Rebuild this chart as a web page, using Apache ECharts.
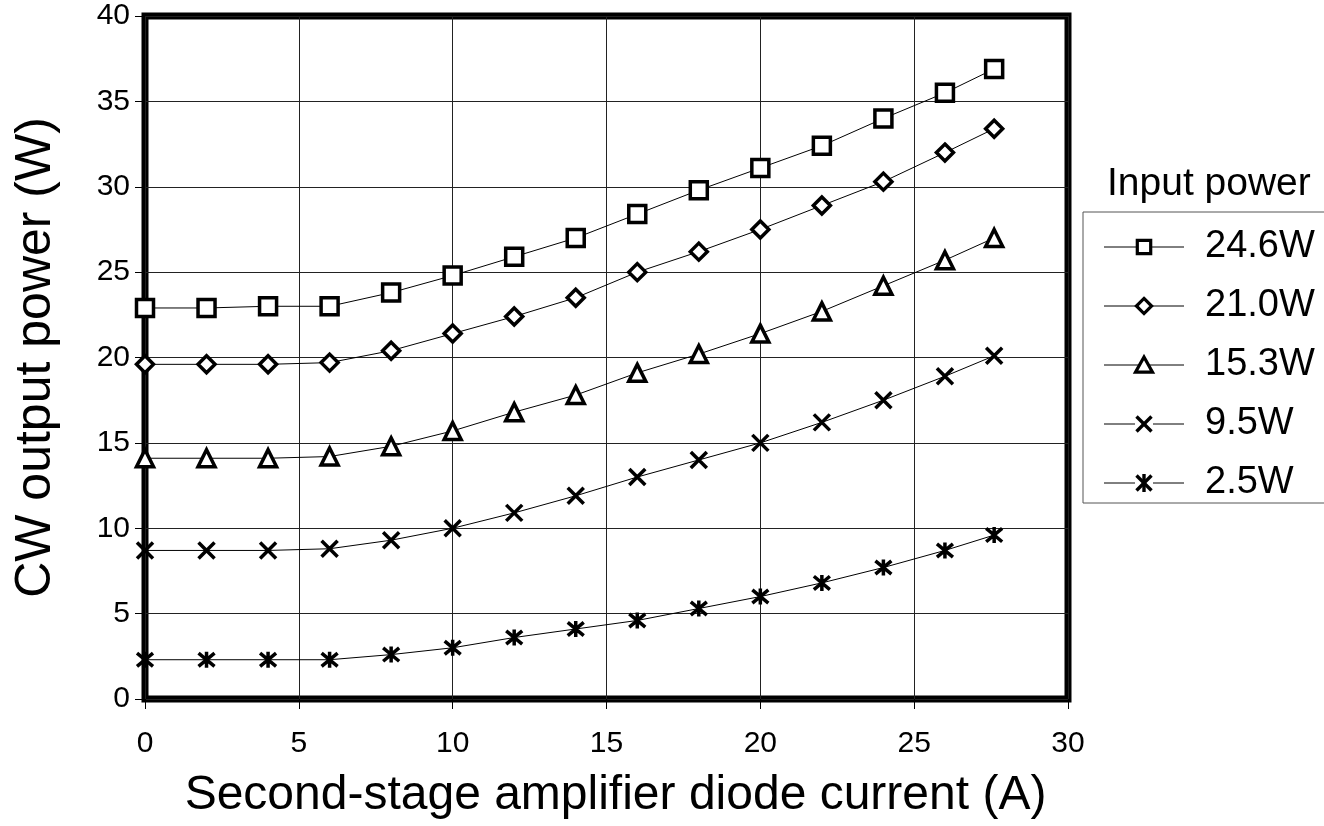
<!DOCTYPE html>
<html><head><meta charset="utf-8">
<script src="https://cdn.jsdelivr.net/npm/echarts@6/dist/echarts.min.js"></script>
<style>html,body{margin:0;padding:0;background:#fff}#c{width:1324px;height:826px}</style>
</head><body><div id="c"></div>
<script>
// Data
const current = [0, 2, 4, 6, 8, 10, 12, 14, 16, 18, 20, 22, 24, 26, 27.6];
const seriesNames = ['24.6W', '21.0W', '15.3W', '9.5W', '2.5W'];
const p24_6 = [22.9, 22.9, 23.0, 23.0, 23.8, 24.8, 25.9, 27.0, 28.4, 29.8, 31.1, 32.4, 34.0, 35.5, 36.9];
const p21_0 = [19.6, 19.6, 19.6, 19.7, 20.4, 21.4, 22.4, 23.5, 25.0, 26.2, 27.5, 28.9, 30.3, 32.0, 33.4];
const p15_3 = [14.1, 14.1, 14.1, 14.2, 14.8, 15.7, 16.8, 17.8, 19.1, 20.2, 21.4, 22.7, 24.2, 25.7, 27.0];
const p9_5  = [8.7, 8.7, 8.7, 8.8, 9.3, 10.0, 10.9, 11.9, 13.0, 14.0, 15.0, 16.2, 17.5, 18.9, 20.1];
const p2_5  = [2.3, 2.3, 2.3, 2.3, 2.6, 3.0, 3.6, 4.1, 4.6, 5.3, 6.0, 6.8, 7.7, 8.7, 9.6];
const xMin = 0, xMax = 30, xStep = 5;
const yMin = 0, yMax = 40, yStep = 5;
const xTitle = 'Second-stage amplifier diode current (A)';
const yTitle = 'CW output power (W)';
const legendTitle = 'Input power';

const FONT = "'Liberation Sans', Arial, Helvetica, sans-serif";
const allValues = [p24_6, p21_0, p15_3, p9_5, p2_5];
const symbols = [
  'rect',
  'diamond',
  'triangle',
  'path://M0,0L10,10M10,0L0,10',
  'path://M0,0L10,10M10,0L0,10M5,-1L5,11'
];
const symbolSizes = [17, 17, 17, 16, 16];

// Legend layout (the legend component draws box and labels; bold icons are drawn on top of it)
const LEG = {left: 1083, top: 212, padT: 16, padL: 21, itemH: 38, gap: 21, iconW: 80};
const MK = {fill: '#fff', stroke: '#000', lineWidth: 3.2, lineJoin: 'miter'};
function legendIconChildren(k) {
  const c = 40;
  const seg = (a, b) => ({type: 'line', shape: {x1: a, y1: 0, x2: b, y2: 0}, style: {stroke: '#000', lineWidth: 1}});
  const stroke = (x1, y1, x2, y2) => ({type: 'line', shape: {x1, y1, x2, y2}, style: {stroke: '#000', lineWidth: 3.4}});
  if (k === 0) return [seg(0, 80), {type: 'rect', shape: {x: c - 6.7, y: -6.7, width: 13.4, height: 13.4}, style: MK}];
  if (k === 1) return [seg(0, 80), {type: 'polygon', shape: {points: [[c, -7.6], [c + 7.6, 0], [c, 7.6], [c - 7.6, 0]]}, style: MK}];
  if (k === 2) return [seg(0, 80), {type: 'polygon', shape: {points: [[c, -8], [c + 8.5, 7.2], [c - 8.5, 7.2]]}, style: MK}];
  if (k === 3) return [seg(0, 31), seg(49, 80), stroke(c - 7.5, -7.5, c + 7.5, 7.5), stroke(c + 7.5, -7.5, c - 7.5, 7.5)];
  return [seg(0, 31), seg(49, 80), stroke(c - 7.5, -7.5, c + 7.5, 7.5), stroke(c + 7.5, -7.5, c - 7.5, 7.5), stroke(c, -9, c, 9)];
}
const legendIconGraphics = seriesNames.map((n, k) => ({
  type: 'group',
  x: LEG.left + LEG.padL,
  y: LEG.top + LEG.padT + LEG.itemH / 2 + k * (LEG.itemH + LEG.gap),
  z: 100,
  silent: true,
  children: legendIconChildren(k)
}));

const chart = echarts.init(document.getElementById('c'), null, {renderer: 'canvas'});
chart.setOption({
  backgroundColor: '#fff',
  animation: false,
  textStyle: {fontFamily: FONT, color: '#000'},
  title: {
    text: legendTitle, left: 1107, top: 165, padding: 0,
    textStyle: {fontFamily: FONT, fontSize: 39, fontWeight: 'normal', color: '#000'}
  },
  legend: {
    orient: 'vertical', left: LEG.left, top: LEG.top,
    padding: [LEG.padT, 40, 1, LEG.padL],
    itemWidth: LEG.iconW, itemHeight: 17, itemGap: LEG.gap,
    borderColor: '#555', borderWidth: 1,
    selectedMode: false,
    data: seriesNames,
    itemStyle: {opacity: 0},
    lineStyle: {opacity: 0},
    textStyle: {fontFamily: FONT, fontSize: 38, lineHeight: LEG.itemH, color: '#000', padding: [0, 0, 0, 15]}
  },
  graphic: legendIconGraphics,
  grid: {
    left: 145, right: 256, top: 16, bottom: 127,
    show: true, borderColor: '#000', borderWidth: 7, backgroundColor: 'transparent'
  },
  xAxis: {
    type: 'value', min: xMin, max: xMax, interval: xStep,
    name: xTitle, nameLocation: 'middle', nameGap: 73,
    nameTextStyle: {fontFamily: FONT, fontSize: 48, color: '#000', padding: [0, 0, 0, 18]},
    axisLine: {show: false},
    axisTick: {show: true, length: 10, lineStyle: {color: '#000', width: 1}},
    axisLabel: {fontFamily: FONT, fontSize: 30, color: '#000', margin: 30},
    splitLine: {show: true, lineStyle: {color: '#222', width: 1}}
  },
  yAxis: {
    type: 'value', min: yMin, max: yMax, interval: yStep,
    name: yTitle, nameLocation: 'middle', nameGap: 84,
    nameTextStyle: {fontFamily: FONT, fontSize: 50, color: '#000'},
    axisLine: {show: false},
    axisTick: {show: true, length: 10, lineStyle: {color: '#000', width: 1}},
    axisLabel: {fontFamily: FONT, fontSize: 30, color: '#000', margin: 15},
    splitLine: {show: true, lineStyle: {color: '#222', width: 1}}
  },
  series: seriesNames.map((name, i) => ({
    name: name,
    type: 'line',
    data: current.map((x, j) => [x, allValues[i][j]]),
    symbol: symbols[i],
    symbolSize: symbolSizes[i],
    showAllSymbol: true,
    clip: false,
    lineStyle: {color: '#000', width: 1},
    itemStyle: {color: '#fff', borderColor: '#000', borderWidth: 3.5},
    emphasis: {disabled: true},
    z: 3
  }))
});
</script></body></html>
